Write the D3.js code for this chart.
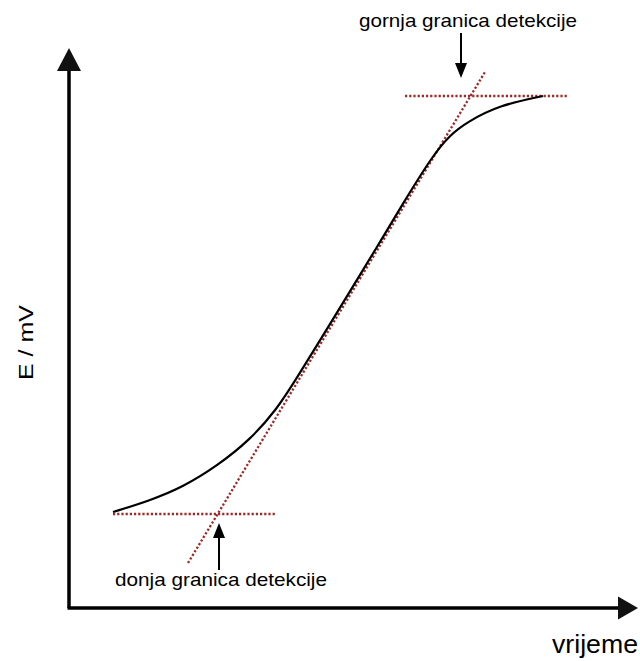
<!DOCTYPE html>
<html>
<head>
<meta charset="utf-8">
<script src="https://cdn.jsdelivr.net/npm/d3@7"></script>
<style>
  body { margin: 0; background: #fff; }
  svg { display: block; font-family: "Liberation Sans", Arial, sans-serif; }
</style>
</head>
<body>
<div id="chart"></div>
<script>
// krivulja odziva (vrijeme, E), očitano sa slike
const vrijeme = [8.8, 16.2, 22.8, 29.6, 36.2, 41.6, 45.2, 52.2, 58.2, 62.2, 66.6, 72.8, 76.2, 79.6, 86.2, 94.8];
const potencijal = [19.2, 21.5, 24.2, 28.4, 33.6, 39.8, 45.4, 56.8, 66.6, 73.2, 80.6, 90.6, 94.6, 97.2, 100.6, 102.4];

// tangenta i granice detekcije
const tangenta = [[23.8, 9], [83.2, 107.2]];
const donja = [[8.8, 18.8], [41.2, 18.8]];
const gornja = [[67.2, 102.4], [99.8, 102.4]];

// strelice oznaka
const strelice = [
  {t: 30, od: 7.6, do: 17, tekst: "donja granica detekcije", tx: 115, ty: 586, tl: 212},
  {t: 78.4, od: 115, do: 106, tekst: "gornja granica detekcije", tx: 359, ty: 27, tl: 218}
];

const width = 640, height = 661;
const x = d3.scaleLinear().domain([0, 110]).range([69, 619]);
const y = d3.scaleLinear().domain([0, 112]).range([608, 48]);

const svg = d3.select("#chart").append("svg")
  .attr("width", width)
  .attr("height", height);

// osi sa strelicama
svg.append("line")
  .attr("x1", x(0)).attr("y1", y(0))
  .attr("x2", x(0)).attr("y2", y(0) - 540)
  .attr("stroke", "#000").attr("stroke-width", 3.5);
svg.append("line")
  .attr("x1", x(0) - 1.5).attr("y1", y(0))
  .attr("x2", 622).attr("y2", y(0))
  .attr("stroke", "#000").attr("stroke-width", 3.5);
svg.append("path")
  .attr("d", `M${x(0)},${y(112)} L${x(0) - 12},${y(112) + 23} L${x(0) + 12},${y(112) + 23} Z`)
  .attr("fill", "#111");
svg.append("path")
  .attr("d", `M638,${y(0)} L618,${y(0) - 11.5} L618,${y(0) + 11.5} Z`)
  .attr("fill", "#111");

svg.append("text")
  .attr("x", 552).attr("y", 653)
  .attr("font-size", 26)
  .attr("textLength", 86).attr("lengthAdjust", "spacingAndGlyphs")
  .text("vrijeme");
svg.append("text")
  .attr("transform", "translate(33,380) rotate(-90)")
  .attr("font-size", 21)
  .attr("textLength", 75).attr("lengthAdjust", "spacingAndGlyphs")
  .text("E / mV");

// isprekidane crvene linije
const line = d3.line().x(d => x(d[0])).y(d => y(d[1]));
for (const l of [tangenta, donja, gornja]) {
  svg.append("path")
    .attr("d", line(l))
    .attr("fill", "none")
    .attr("stroke", "#9c2a28")
    .attr("stroke-width", 2.3)
    .attr("stroke-dasharray", "2.2,2");
}

// krivulja
svg.append("path")
  .datum(vrijeme.map((t, i) => [t, potencijal[i]]))
  .attr("d", d3.line().x(d => x(d[0])).y(d => y(d[1])).curve(d3.curveBasis))
  .attr("fill", "none")
  .attr("stroke", "#000")
  .attr("stroke-width", 2.2);

// oznake sa strelicama
for (const s of strelice) {
  const x0 = x(s.t), y0 = y(s.od), y1 = y(s.do);
  const dir = Math.sign(y1 - y0);
  svg.append("line")
    .attr("x1", x0).attr("y1", y0)
    .attr("x2", x0).attr("y2", y1 - dir * 12)
    .attr("stroke", "#000").attr("stroke-width", 2);
  svg.append("path")
    .attr("d", `M${x0},${y1} L${x0 - 6},${y1 - dir * 15} L${x0 + 6},${y1 - dir * 15} Z`)
    .attr("fill", "#000");
  svg.append("text")
    .attr("x", s.tx).attr("y", s.ty)
    .attr("font-size", 19)
    .attr("textLength", s.tl).attr("lengthAdjust", "spacingAndGlyphs")
    .text(s.tekst);
}
</script>
</body>
</html>
